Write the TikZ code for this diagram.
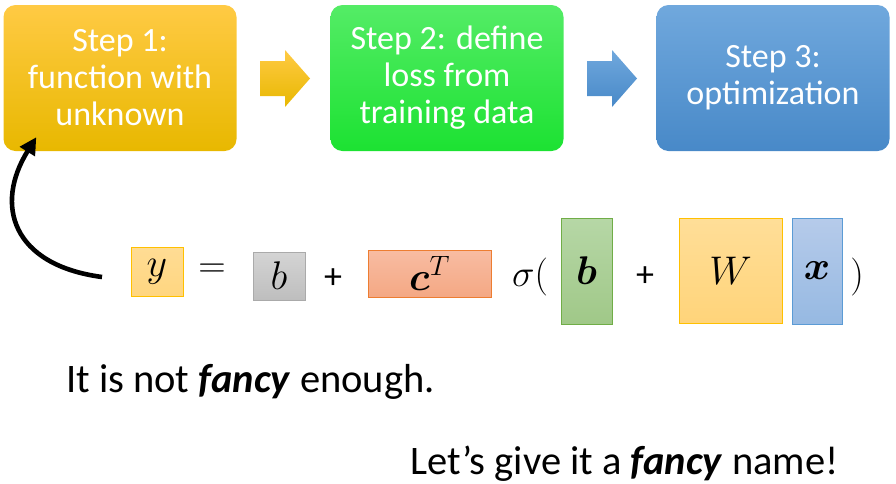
\RequirePackage{fix-cm}
\documentclass[tikz,border=0pt]{standalone}
\usepackage{amsmath}
\usepackage{bm}
\usepackage{fontspec}
\setmainfont{Carlito}
\usetikzlibrary{arrows.meta}
\definecolor{oTop}{RGB}{255,202,68}
\definecolor{oMid}{RGB}{255,193,0}
\definecolor{oBot}{RGB}{232,184,0}
\definecolor{gTop}{RGB}{84,236,102}
\definecolor{gMid}{RGB}{44,236,68}
\definecolor{gBot}{RGB}{28,226,50}
\definecolor{bTop}{RGB}{112,168,221}
\definecolor{bMid}{RGB}{91,155,213}
\definecolor{bBot}{RGB}{72,137,200}
\begin{document}
\begin{tikzpicture}[x=1pt,y=-1pt,
  stepbox/.style={rounded corners=12pt, minimum width=233pt, minimum height=146pt,
    text=white, font=\fontsize{34}{37}\selectfont, align=center, inner sep=0pt},
  orangefill/.style={top color=oTop, middle color=oMid, bottom color=oBot},
  greenfill/.style={top color=gTop, middle color=gMid, bottom color=gBot},
  bluefill/.style={top color=bTop, middle color=bMid, bottom color=bBot},
  termbox/.style={draw, line width=0.8pt, inner sep=0pt, font=\fontsize{40}{44}\selectfont},
  mathtxt/.style={inner sep=0pt, font=\fontsize{38}{42}\selectfont},
  plus/.style={inner sep=0pt, font=\fontsize{36}{40}\selectfont},
  bigtext/.style={inner sep=0pt, anchor=base west, font=\fontsize{40.5}{44}\selectfont},
  bigarrow/.style={line width=4.6pt, -{Triangle[length=17pt,width=17pt]}}
]
\useasboundingbox (0,0) rectangle (896,483);

% step boxes
\node[stepbox, orangefill] (s1) at (120,78) {Step 1:\\function with\\unknown};
\node[stepbox, greenfill] (s2) at (447,78) {Step 2: define\\loss from\\training data};
\node[stepbox, bluefill] (s3) at (773,78) {Step 3:\\optimization};

% block arrows
\shade[orangefill] (260,61) -- (285,61) -- (285,50) -- (310,78.5) -- (285,107) -- (285,96) -- (260,96) -- cycle;
\shade[bluefill] (587,61) -- (612,61) -- (612,50) -- (637,78.5) -- (612,107) -- (612,96) -- (587,96) -- cycle;

% equation
\node[termbox, draw={rgb,255:red,255;green,192;blue,0}, top color={rgb,255:red,255;green,220;blue,148}, bottom color={rgb,255:red,255;green,214;blue,128},
  minimum width=52pt, minimum height=49pt] (y) at (157,271.5) {$y$};
\node[mathtxt] (eq) at (212,271) {$=$};
\node[termbox, draw={rgb,255:red,170;green,170;blue,170}, top color={rgb,255:red,212;green,212;blue,212}, bottom color={rgb,255:red,190;green,190;blue,190},
  minimum width=52pt, minimum height=48pt] (b0) at (279,276) {$b$};
\node[plus] (p1) at (333,279) {+};
\node[termbox, draw={rgb,255:red,237;green,125;blue,49}, top color={rgb,255:red,248;green,188;blue,162}, bottom color={rgb,255:red,244;green,168;blue,132},
  minimum width=123pt, minimum height=47pt] (c) at (429.5,273.5) {$\bm{c}^T$};
\node[mathtxt] (sig) at (530,277) {$\sigma($};
\node[termbox, draw={rgb,255:red,112;green,173;blue,71}, top color={rgb,255:red,182;green,215;blue,166}, bottom color={rgb,255:red,160;green,200;blue,136},
  minimum width=51pt, minimum height=106pt] (bv) at (586.5,271) {$\bm{b}$};
\node[plus] (p2) at (645,277) {+};
\node[termbox, draw={rgb,255:red,255;green,192;blue,0}, top color={rgb,255:red,255;green,222;blue,152}, bottom color={rgb,255:red,255;green,212;blue,122},
  minimum width=103pt, minimum height=105pt] (W) at (730.5,270.5) {$W$};
\node[termbox, draw={rgb,255:red,91;green,155;blue,213}, top color={rgb,255:red,182;green,203;blue,234}, bottom color={rgb,255:red,150;green,185;blue,226},
  minimum width=50pt, minimum height=106pt] (xv) at (817,271) {$\bm{x}$};
\node[mathtxt] (rp) at (857,277) {$)$};

% curved arrow
\coordinate (cs) at (102,277);
\draw[bigarrow] (cs) .. controls (12,265) and (-6,205) .. ([xshift=33pt,yshift=14pt]s1.south west);

% texts
\node[bigtext] (t1) at (66,392) {It is not \textbf{\textit{fancy}} enough.};
\node[bigtext] (t2) at (410,474) {Let’s give it a \textbf{\textit{fancy}} name!};
\end{tikzpicture}
\end{document}
